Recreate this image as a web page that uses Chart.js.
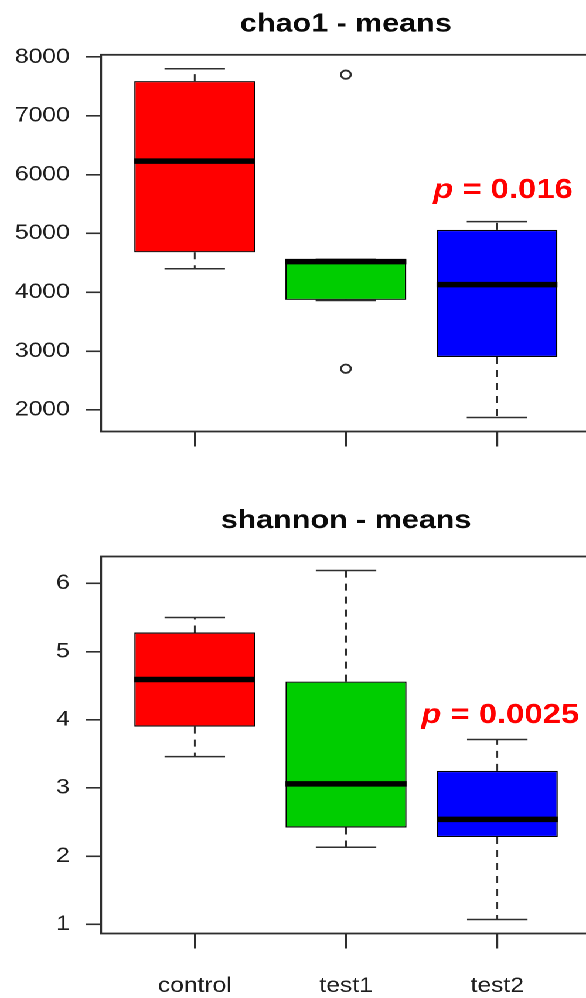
<!DOCTYPE html>
<html lang="en">
<head>
<meta charset="UTF-8" />
<title>chao1 / shannon - means</title>
<script src="https://cdn.jsdelivr.net/npm/chart.js"></script>
<style>
    * { margin: 0; padding: 0; box-sizing: border-box; }
    html, body { width: 586px; height: 998px; overflow: hidden; background: #ffffff; }
    /* the reference is stretched horizontally, so draw narrow and stretch */
    .stretch { width: 510px; transform: scaleX(1.172); transform-origin: 0 0; }
    canvas { display: block; }
</style>
</head>
<body>
<div class="stretch">
    <canvas id="chaoChart" width="510" height="470"></canvas>
    <canvas id="shannonChart" width="510" height="528"></canvas>
</div>

<script>
    // groups
    const groups = ["control", "test1", "test2"];
    const boxColors = ["#ff0000", "#00cd00", "#0000ff"];

    // chao1 - means
    const chaoLower = [4400, 3860, 1870];
    const chaoQ1 = [4680, 3870, 2900];
    const chaoMedian = [6230, 4520, 4130];
    const chaoQ3 = [7590, 4560, 5060];
    const chaoUpper = [7800, 4560, 5200];
    const chaoOutliers = [[], [7700, 2700], []];
    const chaoTicks = [2000, 3000, 4000, 5000, 6000, 7000, 8000];
    const chaoP = { text: " = 0.016", x: 3.04, y: 5600 };

    // shannon - means
    const shannonLower = [3.46, 2.13, 1.07];
    const shannonQ1 = [3.90, 2.42, 2.28];
    const shannonMedian = [4.59, 3.06, 2.54];
    const shannonQ3 = [5.28, 4.56, 3.25];
    const shannonUpper = [5.50, 6.19, 3.71];
    const shannonOutliers = [[], [], []];
    const shannonTicks = [1, 2, 3, 4, 5, 6];
    const shannonP = { text: " = 0.0025", x: 3.02, y: 3.95 };

    const FONT = "'Liberation Sans', Arial, Helvetica, sans-serif";
    const INK = "#2e2e2e";

    // whiskers, staples, medians, frame and the p label
    const boxPlotPlugin = {
        id: "boxPlot",
        beforeDatasetsDraw(chart, args, opts) {
            const { ctx } = chart;
            const x = chart.scales.x, y = chart.scales.y;
            const half = (x.getPixelForValue(1.2) - x.getPixelForValue(1)); // staple half width
            ctx.save();
            ctx.strokeStyle = INK;
            ctx.lineWidth = 1.5;
            opts.lower.forEach((lo, i) => {
                const cx = x.getPixelForValue(i + 1);
                ctx.setLineDash([7, 6]);
                ctx.beginPath();
                ctx.moveTo(cx, y.getPixelForValue(opts.q3[i]));
                ctx.lineTo(cx, y.getPixelForValue(opts.upper[i]));
                ctx.moveTo(cx, y.getPixelForValue(opts.q1[i]));
                ctx.lineTo(cx, y.getPixelForValue(lo));
                ctx.stroke();
                ctx.setLineDash([]);
                ctx.beginPath();
                [lo, opts.upper[i]].forEach(v => {
                    const py = y.getPixelForValue(v);
                    ctx.moveTo(cx - half, py);
                    ctx.lineTo(cx + half, py);
                });
                ctx.stroke();
            });
            ctx.restore();
        },
        afterDatasetsDraw(chart, args, opts) {
            const { ctx } = chart;
            const x = chart.scales.x, y = chart.scales.y;
            const half = (x.getPixelForValue(1.4) - x.getPixelForValue(1));
            ctx.save();
            ctx.strokeStyle = "#000000";
            ctx.lineWidth = 5.5;
            opts.median.forEach((m, i) => {
                const cx = x.getPixelForValue(i + 1);
                const py = y.getPixelForValue(m);
                ctx.beginPath();
                ctx.moveTo(cx - half, py);
                ctx.lineTo(cx + half, py);
                ctx.stroke();
            });
            ctx.restore();
        },
        afterDraw(chart, args, opts) {
            const { ctx, chartArea } = chart;
            const x = chart.scales.x, y = chart.scales.y;
            ctx.save();
            ctx.strokeStyle = INK;
            ctx.lineWidth = 1.8;
            ctx.strokeRect(chartArea.left, chartArea.top, chartArea.right - chartArea.left, chartArea.bottom - chartArea.top);

            // p value, italic p
            const f1 = "italic bold 28px " + FONT;
            const f2 = "bold 28px " + FONT;
            ctx.font = f1;
            const w1 = ctx.measureText("p").width;
            ctx.font = f2;
            const w2 = ctx.measureText(opts.p.text).width;
            let px = x.getPixelForValue(opts.p.x) - (w1 + w2) / 2;
            const py = y.getPixelForValue(opts.p.y);
            ctx.fillStyle = "#ff0000";
            ctx.textBaseline = "alphabetic";
            ctx.textAlign = "left";
            ctx.font = f1;
            ctx.fillText("p", px, py);
            ctx.font = f2;
            ctx.fillText(opts.p.text, px + w1, py);
            ctx.restore();
        }
    };

    function makeBoxChart(id, title, titlePad, stats, ticks, showLabels, xHeight) {
        // R style limits: data range plus 4% each side
        const all = stats.lower.concat(stats.upper, stats.outliers.flat());
        const lo = Math.min(...all), hi = Math.max(...all);
        const ext = (hi - lo) * 0.04;

        const ctx = document.getElementById(id).getContext("2d");
        return new Chart(ctx, {
            type: "bar",
            data: {
                datasets: [
                    {
                        type: "bar",
                        data: groups.map((g, i) => ({ x: i + 1, y: [stats.q1[i], stats.q3[i]] })),
                        backgroundColor: boxColors,
                        borderColor: "#000000",
                        borderWidth: 1.2,
                        borderSkipped: false,
                        barPercentage: 0.8,
                        categoryPercentage: 1.0,
                        order: 2
                    },
                    {
                        type: "scatter",
                        data: stats.outliers.flatMap((vals, i) => vals.map(v => ({ x: i + 1, y: v }))),
                        pointRadius: 4.2,
                        pointBorderWidth: 1.8,
                        pointBorderColor: INK,
                        pointBackgroundColor: "rgba(0,0,0,0)",
                        order: 1
                    }
                ]
            },
            options: {
                responsive: false,
                devicePixelRatio: 2,
                animation: false,
                layout: { padding: { left: 0, right: 5.7, top: 0, bottom: 0 } },
                scales: {
                    x: {
                        type: "linear",
                        min: 0.38,
                        max: 3.62,
                        offset: false,
                        grid: { offset: false, drawOnChartArea: false, drawTicks: true, tickLength: 15, color: INK, lineWidth: 1.6 },
                        border: { display: false },
                        ticks: {
                            autoSkip: false,
                            maxRotation: 0,
                            padding: 25,
                            color: "#1e1e1e",
                            font: { family: FONT, size: 21 },
                            callback: (v) => showLabels ? groups[v - 1] : ""
                        },
                        afterBuildTicks: (scale) => { scale.ticks = groups.map((g, i) => ({ value: i + 1 })); },
                        afterFit: (scale) => { scale.height = xHeight; }
                    },
                    y: {
                        type: "linear",
                        min: lo - ext,
                        max: hi + ext,
                        grid: { drawOnChartArea: false, drawTicks: true, tickLength: 12.8, color: INK, lineWidth: 1.6 },
                        border: { display: false },
                        ticks: {
                            padding: 13.9,
                            color: "#1e1e1e",
                            font: { family: FONT, size: 21 },
                            callback: (v) => String(v)
                        },
                        afterBuildTicks: (scale) => { scale.ticks = ticks.map(v => ({ value: v })); },
                        afterFit: (scale) => { scale.width = 86.2; }
                    }
                },
                plugins: {
                    legend: { display: false },
                    tooltip: { enabled: false },
                    title: {
                        display: true,
                        text: title,
                        fullSize: false,
                        color: "#0a0a0a",
                        font: { family: FONT, size: 26, weight: "bold", lineHeight: 1.2 },
                        padding: titlePad
                    },
                    boxPlot: stats
                }
            },
            plugins: [boxPlotPlugin]
        });
    }

    makeBoxChart("chaoChart", "chao1 - means", { top: 8.7, bottom: 14.9 }, {
        lower: chaoLower, q1: chaoQ1, median: chaoMedian, q3: chaoQ3, upper: chaoUpper,
        outliers: chaoOutliers, p: chaoP
    }, chaoTicks, false, 38.5);

    makeBoxChart("shannonChart", "shannon - means", { top: 35.4, bottom: 19.9 }, {
        lower: shannonLower, q1: shannonQ1, median: shannonMedian, q3: shannonQ3, upper: shannonUpper,
        outliers: shannonOutliers, p: shannonP
    }, shannonTicks, true, 64.5);
</script>
</body>
</html>
